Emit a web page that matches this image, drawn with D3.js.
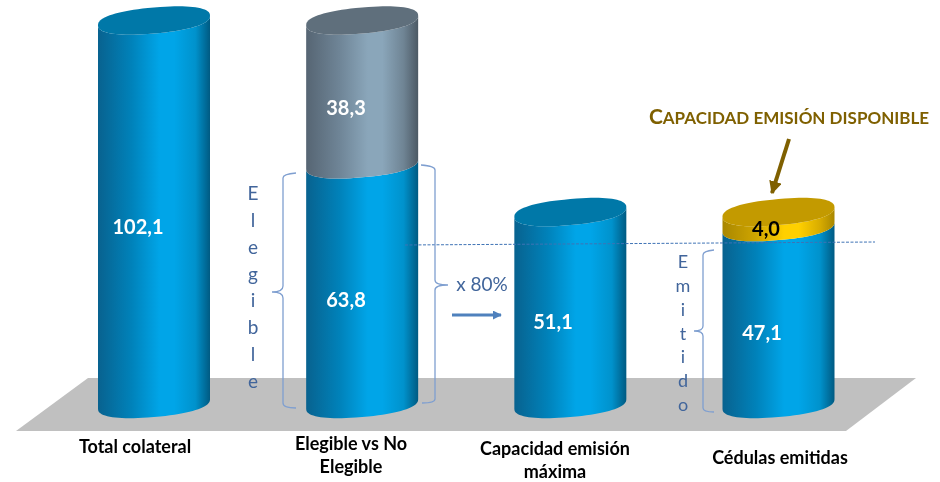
<!DOCTYPE html>
<html><head><meta charset="utf-8">
<script src="https://cdn.jsdelivr.net/npm/d3@7/dist/d3.min.js"></script>
<style>html,body{margin:0;background:#fff}svg{display:block;filter:blur(0.35px)}text{font-family:Lato,"Open Sans",sans-serif}</style>
</head><body><svg id="c" width="940" height="482"></svg>
<script>
const categories = ["Total colateral","Elegible vs No Elegible","Capacidad emisión máxima","Cédulas emitidas"];
const segmentA = [102.1,63.8,51.1,47.1];
const segmentB = [0,38.3,0,4.0];
const segmentBKind = ["none","grey","none","gold"];
const wordElegible = "Elegible".split("");
const wordEmitido = "Emitido".split("");

const svg = d3.select("#c");
const x = d3.scalePoint().domain(categories).range([154,778.5]);
const y = d3.scaleLinear().domain([0,102.1]).range([404,20.5]);
const A = 56, B = 13, K = 4.8, P = 0.86;
const fmt = v => v.toFixed(1).replace(".",",");
const pal = {
  blue:{stops:["#08628f","#0082ba","#00a5e8","#00a5e8","#0092cc","#005a82"],top:"#0078a8"},
  grey:{stops:["#566573","#6f8597","#8aa6ba","#8aa6ba","#6f8494","#4c5964"],top:"#5f6f7c"},
  gold:{stops:["#a98700","#cfa500","#ffd000","#ffd000","#d8ac00","#a98700"],top:"#c39a00"}
};
const defs = svg.append("defs");
Object.entries(pal).forEach(([k,p])=>{
  const g = defs.append("linearGradient").attr("id","g-"+k);
  [0,.3,.55,.68,.87,1].forEach((o,i)=>g.append("stop").attr("offset",o).attr("stop-color",p.stops[i]));
});
const m = defs.append("marker").attr("id","ah").attr("markerUnits","userSpaceOnUse").attr("viewBox","0 0 10 10").attr("refX",9).attr("refY",5).attr("markerWidth",13).attr("markerHeight",13).attr("orient","auto");
m.append("path").attr("d","M0,0L10,5L0,10Z").attr("fill","#7f6000");
const m2 = defs.append("marker").attr("id","ab").attr("markerUnits","userSpaceOnUse").attr("viewBox","0 0 10 10").attr("refX",9).attr("refY",5).attr("markerWidth",9).attr("markerHeight",9).attr("orient","auto");
m2.append("path").attr("d","M0,0L10,5L0,10Z").attr("fill","#4f81bd");

// floor
svg.append("path").attr("d","M88,378L916,378L846,431L16,431Z").attr("fill","#c0c0c0");

const sp = v => Math.sign(v)*Math.pow(Math.abs(v),P);
const pt = (cx,cy,t)=>{const c=sp(Math.cos(t)), s=sp(Math.sin(t)); return [cx+A*c, cy+B*s-K*c];};
const ts = d3.range(0,41).map(i=>i/40*Math.PI);
const line = d3.line();
const front = (cx,cy)=>ts.map(t=>pt(cx,cy,t));
const whole = (cx,cy)=>d3.range(0,81).map(i=>pt(cx,cy,i/80*2*Math.PI));

function cyl(cx,v0,v1,kind,withTop){
  const lower = front(cx,y(v0)), upper = front(cx,y(v1)).reverse();
  svg.append("path").attr("d",line(lower.concat(upper))+"Z").attr("fill",`url(#g-${kind})`);
  if(withTop) svg.append("path").attr("d",line(whole(cx,y(v1)))+"Z").attr("fill",pal[kind].top);
}
categories.forEach((c,i)=>{
  const cx = x(c), a = segmentA[i], b = segmentB[i];
  cyl(cx,0,a,"blue",b===0);
  if(b>0) cyl(cx,a,a+b,segmentBKind[i],true);
});

// dashed reference
svg.append("line").attr("x1",405).attr("y1",245).attr("x2",875).attr("y2",242)
  .attr("stroke","#3f73b5").attr("stroke-width",1).attr("stroke-dasharray","3 1.5");

// braces
const brace = (d)=>svg.append("path").attr("d",d).attr("fill","none").attr("stroke","#7f9fd0").attr("stroke-width",1.3);
brace("M296,173Q283,174 283,178L283,286Q283,292 272,292Q283,292 283,298L283,403Q283,408 296,408");
brace("M421,165Q435,166 435,170L435,280Q435,285 448,285Q435,285 435,290L435,399Q435,403 422,403");
brace("M714,250Q703,251 703,255L703,326Q703,331 694,331Q703,331 703,336L703,408Q703,412 714,412");

// vertical words
const txt = (s,px,py,size,col,w,anchor)=>svg.append("text").attr("x",px).attr("y",py).attr("font-size",size).attr("fill",col).attr("font-weight",w||400).attr("text-anchor",anchor||"middle").text(s);
const elegY = d3.scaleLinear().domain([0,7]).range([200,388]);
wordElegible.forEach((l,i)=>txt(l,253,elegY(i),19,"#41659b"));
const emitY = d3.scaleLinear().domain([0,6]).range([268,411]);
wordEmitido.forEach((l,i)=>txt(l,683,emitY(i),18,"#41659b"));

txt("x 80%",482,291,19,"#41659b");
svg.append("line").attr("x1",452).attr("y1",315).attr("x2",501).attr("y2",315).attr("stroke","#4f81bd").attr("stroke-width",2.8).attr("marker-end","url(#ab)");

// value labels
const labelPos = [[138,234],[346,115],[346,307],[553,329],[762,340]];
const labelVals = [segmentA[0],segmentB[1],segmentA[1],segmentA[2],segmentA[3]];
labelVals.forEach((v,i)=>txt(fmt(v),labelPos[i][0],labelPos[i][1],20,"#fff",700));
txt(fmt(segmentB[3]),766,236,20,"#000",700);

// category labels
const catLines = [["Total colateral"],["Elegible vs No","Elegible"],["Capacidad emisión","máxima"],["Cédulas emitidas"]];
const catPos = [[135,453],[351,450],[555,455],[780,464]];
catLines.forEach((ls,i)=>ls.forEach((l,j)=>txt(l,catPos[i][0],catPos[i][1]+j*23,18,"#000",700)));

// callout
const t = svg.append("text").attr("x",789).attr("y",124).attr("text-anchor","middle").attr("fill","#7f6000").attr("font-weight",700);
[["C",21],["APACIDAD EMISIÓN DISPONIBLE",17]].forEach(([s,z])=>t.append("tspan").attr("font-size",z).text(s));
svg.append("line").attr("x1",789).attr("y1",139).attr("x2",772).attr("y2",193).attr("stroke","#7f6000").attr("stroke-width",4).attr("marker-end","url(#ah)");
</script></body></html>
